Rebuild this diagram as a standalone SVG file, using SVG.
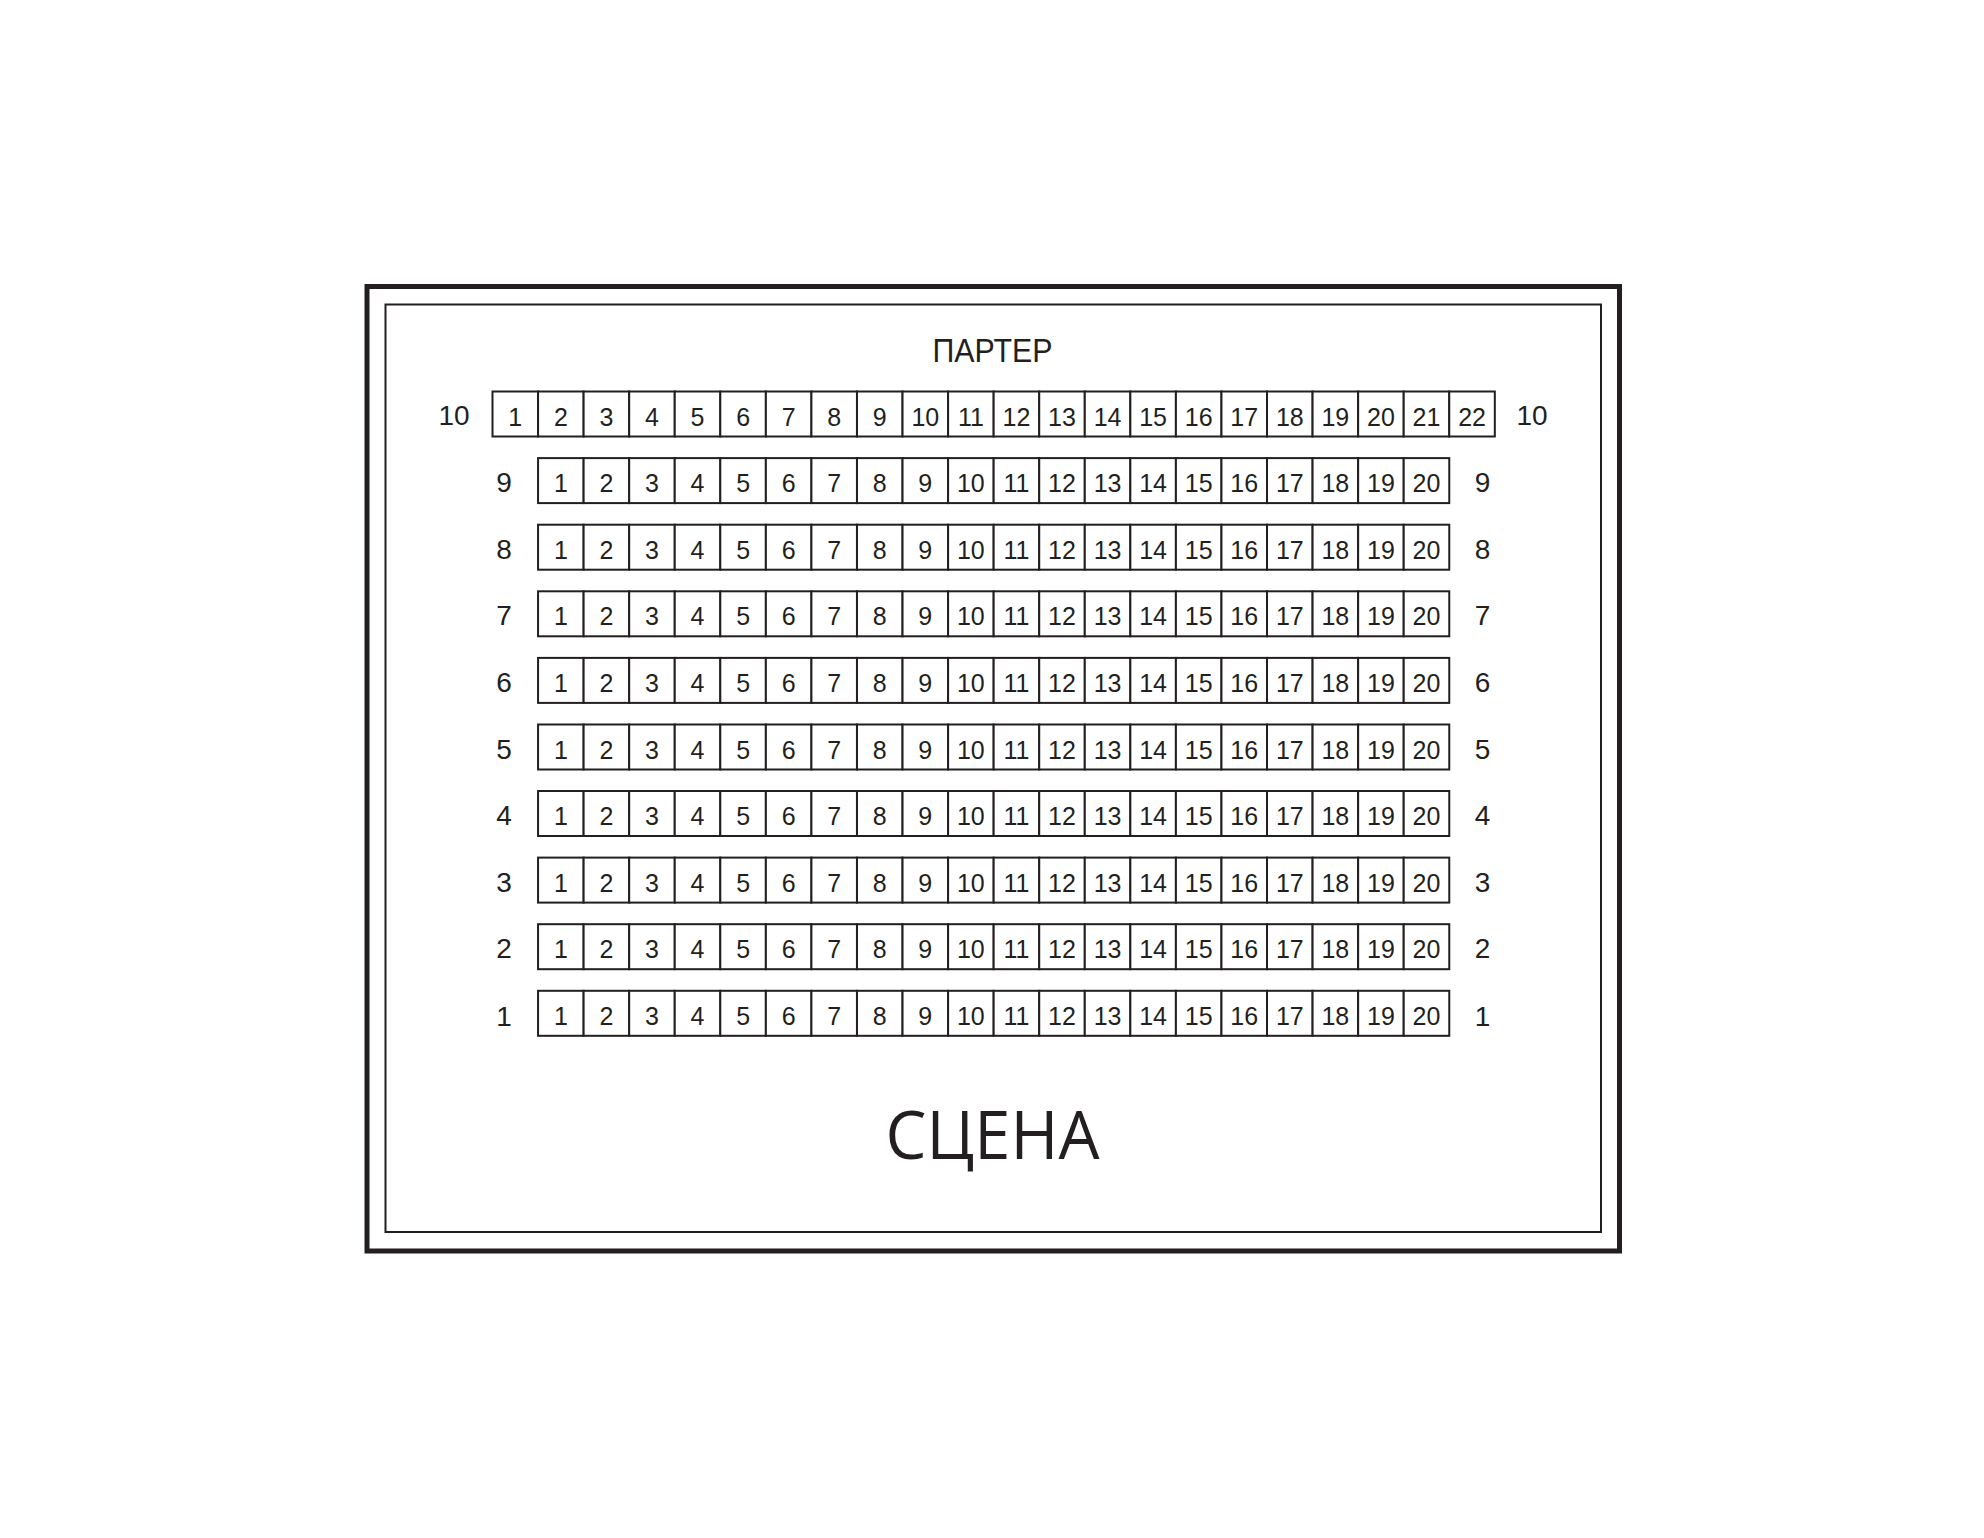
<svg xmlns="http://www.w3.org/2000/svg" width="1984" height="1538" viewBox="0 0 1984 1538">
<style>
.s{fill:#fff;stroke:#231f20;stroke-width:2}
.n{font-family:"Liberation Sans",Arial,sans-serif;font-size:25px;fill:#231f20;text-anchor:middle}
.l{font-family:"Liberation Sans",Arial,sans-serif;font-size:28px;fill:#231f20;text-anchor:middle}
</style>
<rect width="1984" height="1538" fill="#fff"/>
<g id="frame">
<rect x="367" y="286.5" width="1252.5" height="964.5" fill="none" stroke="#231f20" stroke-width="5"/>
<rect x="385.5" y="304.5" width="1215.5" height="927.5" fill="none" stroke="#231f20" stroke-width="2"/>
</g>
<g id="title"><text x="992.5" y="362" font-family="'Liberation Sans',Arial,sans-serif" font-size="33" fill="#231f20" text-anchor="middle" textLength="120" lengthAdjust="spacingAndGlyphs">ПАРТЕР</text></g>
<g id="row-10" transform="translate(0,391.5)">
<text class="l" x="454" y="33">10</text><text class="l" x="1532" y="33">10</text>
<rect class="s" x="492.5" y="0" width="45.56" height="45"/><rect class="s" x="538.06" y="0" width="45.56" height="45"/><rect class="s" x="583.62" y="0" width="45.56" height="45"/><rect class="s" x="629.18" y="0" width="45.56" height="45"/><rect class="s" x="674.74" y="0" width="45.56" height="45"/><rect class="s" x="720.3" y="0" width="45.56" height="45"/><rect class="s" x="765.86" y="0" width="45.56" height="45"/><rect class="s" x="811.42" y="0" width="45.56" height="45"/><rect class="s" x="856.98" y="0" width="45.56" height="45"/><rect class="s" x="902.54" y="0" width="45.56" height="45"/><rect class="s" x="948.1" y="0" width="45.56" height="45"/><rect class="s" x="993.66" y="0" width="45.56" height="45"/><rect class="s" x="1039.22" y="0" width="45.56" height="45"/><rect class="s" x="1084.78" y="0" width="45.56" height="45"/><rect class="s" x="1130.34" y="0" width="45.56" height="45"/><rect class="s" x="1175.9" y="0" width="45.56" height="45"/><rect class="s" x="1221.46" y="0" width="45.56" height="45"/><rect class="s" x="1267.02" y="0" width="45.56" height="45"/><rect class="s" x="1312.58" y="0" width="45.56" height="45"/><rect class="s" x="1358.14" y="0" width="45.56" height="45"/><rect class="s" x="1403.7" y="0" width="45.56" height="45"/><rect class="s" x="1449.26" y="0" width="45.56" height="45"/>
<text class="n" y="34.5"><tspan x="515.28">1</tspan><tspan x="560.84">2</tspan><tspan x="606.4">3</tspan><tspan x="651.96">4</tspan><tspan x="697.52">5</tspan><tspan x="743.08">6</tspan><tspan x="788.64">7</tspan><tspan x="834.2">8</tspan><tspan x="879.76">9</tspan><tspan x="925.32">10</tspan><tspan x="970.88">11</tspan><tspan x="1016.44">12</tspan><tspan x="1062">13</tspan><tspan x="1107.56">14</tspan><tspan x="1153.12">15</tspan><tspan x="1198.68">16</tspan><tspan x="1244.24">17</tspan><tspan x="1289.8">18</tspan><tspan x="1335.36">19</tspan><tspan x="1380.92">20</tspan><tspan x="1426.48">21</tspan><tspan x="1472.04">22</tspan></text>
</g>
<g id="row-9" transform="translate(0,458.1)">
<text class="l" x="504" y="34">9</text><text class="l" x="1482.5" y="34">9</text>
<rect class="s" x="538.06" y="0" width="45.56" height="45"/><rect class="s" x="583.62" y="0" width="45.56" height="45"/><rect class="s" x="629.18" y="0" width="45.56" height="45"/><rect class="s" x="674.74" y="0" width="45.56" height="45"/><rect class="s" x="720.3" y="0" width="45.56" height="45"/><rect class="s" x="765.86" y="0" width="45.56" height="45"/><rect class="s" x="811.42" y="0" width="45.56" height="45"/><rect class="s" x="856.98" y="0" width="45.56" height="45"/><rect class="s" x="902.54" y="0" width="45.56" height="45"/><rect class="s" x="948.1" y="0" width="45.56" height="45"/><rect class="s" x="993.66" y="0" width="45.56" height="45"/><rect class="s" x="1039.22" y="0" width="45.56" height="45"/><rect class="s" x="1084.78" y="0" width="45.56" height="45"/><rect class="s" x="1130.34" y="0" width="45.56" height="45"/><rect class="s" x="1175.9" y="0" width="45.56" height="45"/><rect class="s" x="1221.46" y="0" width="45.56" height="45"/><rect class="s" x="1267.02" y="0" width="45.56" height="45"/><rect class="s" x="1312.58" y="0" width="45.56" height="45"/><rect class="s" x="1358.14" y="0" width="45.56" height="45"/><rect class="s" x="1403.7" y="0" width="45.56" height="45"/>
<text class="n" y="34"><tspan x="560.84">1</tspan><tspan x="606.4">2</tspan><tspan x="651.96">3</tspan><tspan x="697.52">4</tspan><tspan x="743.08">5</tspan><tspan x="788.64">6</tspan><tspan x="834.2">7</tspan><tspan x="879.76">8</tspan><tspan x="925.32">9</tspan><tspan x="970.88">10</tspan><tspan x="1016.44">11</tspan><tspan x="1062">12</tspan><tspan x="1107.56">13</tspan><tspan x="1153.12">14</tspan><tspan x="1198.68">15</tspan><tspan x="1244.24">16</tspan><tspan x="1289.8">17</tspan><tspan x="1335.36">18</tspan><tspan x="1380.92">19</tspan><tspan x="1426.48">20</tspan></text>
</g>
<g id="row-8" transform="translate(0,524.7)">
<text class="l" x="504" y="34">8</text><text class="l" x="1482.5" y="34">8</text>
<rect class="s" x="538.06" y="0" width="45.56" height="45"/><rect class="s" x="583.62" y="0" width="45.56" height="45"/><rect class="s" x="629.18" y="0" width="45.56" height="45"/><rect class="s" x="674.74" y="0" width="45.56" height="45"/><rect class="s" x="720.3" y="0" width="45.56" height="45"/><rect class="s" x="765.86" y="0" width="45.56" height="45"/><rect class="s" x="811.42" y="0" width="45.56" height="45"/><rect class="s" x="856.98" y="0" width="45.56" height="45"/><rect class="s" x="902.54" y="0" width="45.56" height="45"/><rect class="s" x="948.1" y="0" width="45.56" height="45"/><rect class="s" x="993.66" y="0" width="45.56" height="45"/><rect class="s" x="1039.22" y="0" width="45.56" height="45"/><rect class="s" x="1084.78" y="0" width="45.56" height="45"/><rect class="s" x="1130.34" y="0" width="45.56" height="45"/><rect class="s" x="1175.9" y="0" width="45.56" height="45"/><rect class="s" x="1221.46" y="0" width="45.56" height="45"/><rect class="s" x="1267.02" y="0" width="45.56" height="45"/><rect class="s" x="1312.58" y="0" width="45.56" height="45"/><rect class="s" x="1358.14" y="0" width="45.56" height="45"/><rect class="s" x="1403.7" y="0" width="45.56" height="45"/>
<text class="n" y="34"><tspan x="560.84">1</tspan><tspan x="606.4">2</tspan><tspan x="651.96">3</tspan><tspan x="697.52">4</tspan><tspan x="743.08">5</tspan><tspan x="788.64">6</tspan><tspan x="834.2">7</tspan><tspan x="879.76">8</tspan><tspan x="925.32">9</tspan><tspan x="970.88">10</tspan><tspan x="1016.44">11</tspan><tspan x="1062">12</tspan><tspan x="1107.56">13</tspan><tspan x="1153.12">14</tspan><tspan x="1198.68">15</tspan><tspan x="1244.24">16</tspan><tspan x="1289.8">17</tspan><tspan x="1335.36">18</tspan><tspan x="1380.92">19</tspan><tspan x="1426.48">20</tspan></text>
</g>
<g id="row-7" transform="translate(0,591.3)">
<text class="l" x="504" y="34">7</text><text class="l" x="1482.5" y="34">7</text>
<rect class="s" x="538.06" y="0" width="45.56" height="45"/><rect class="s" x="583.62" y="0" width="45.56" height="45"/><rect class="s" x="629.18" y="0" width="45.56" height="45"/><rect class="s" x="674.74" y="0" width="45.56" height="45"/><rect class="s" x="720.3" y="0" width="45.56" height="45"/><rect class="s" x="765.86" y="0" width="45.56" height="45"/><rect class="s" x="811.42" y="0" width="45.56" height="45"/><rect class="s" x="856.98" y="0" width="45.56" height="45"/><rect class="s" x="902.54" y="0" width="45.56" height="45"/><rect class="s" x="948.1" y="0" width="45.56" height="45"/><rect class="s" x="993.66" y="0" width="45.56" height="45"/><rect class="s" x="1039.22" y="0" width="45.56" height="45"/><rect class="s" x="1084.78" y="0" width="45.56" height="45"/><rect class="s" x="1130.34" y="0" width="45.56" height="45"/><rect class="s" x="1175.9" y="0" width="45.56" height="45"/><rect class="s" x="1221.46" y="0" width="45.56" height="45"/><rect class="s" x="1267.02" y="0" width="45.56" height="45"/><rect class="s" x="1312.58" y="0" width="45.56" height="45"/><rect class="s" x="1358.14" y="0" width="45.56" height="45"/><rect class="s" x="1403.7" y="0" width="45.56" height="45"/>
<text class="n" y="34"><tspan x="560.84">1</tspan><tspan x="606.4">2</tspan><tspan x="651.96">3</tspan><tspan x="697.52">4</tspan><tspan x="743.08">5</tspan><tspan x="788.64">6</tspan><tspan x="834.2">7</tspan><tspan x="879.76">8</tspan><tspan x="925.32">9</tspan><tspan x="970.88">10</tspan><tspan x="1016.44">11</tspan><tspan x="1062">12</tspan><tspan x="1107.56">13</tspan><tspan x="1153.12">14</tspan><tspan x="1198.68">15</tspan><tspan x="1244.24">16</tspan><tspan x="1289.8">17</tspan><tspan x="1335.36">18</tspan><tspan x="1380.92">19</tspan><tspan x="1426.48">20</tspan></text>
</g>
<g id="row-6" transform="translate(0,657.9)">
<text class="l" x="504" y="34">6</text><text class="l" x="1482.5" y="34">6</text>
<rect class="s" x="538.06" y="0" width="45.56" height="45"/><rect class="s" x="583.62" y="0" width="45.56" height="45"/><rect class="s" x="629.18" y="0" width="45.56" height="45"/><rect class="s" x="674.74" y="0" width="45.56" height="45"/><rect class="s" x="720.3" y="0" width="45.56" height="45"/><rect class="s" x="765.86" y="0" width="45.56" height="45"/><rect class="s" x="811.42" y="0" width="45.56" height="45"/><rect class="s" x="856.98" y="0" width="45.56" height="45"/><rect class="s" x="902.54" y="0" width="45.56" height="45"/><rect class="s" x="948.1" y="0" width="45.56" height="45"/><rect class="s" x="993.66" y="0" width="45.56" height="45"/><rect class="s" x="1039.22" y="0" width="45.56" height="45"/><rect class="s" x="1084.78" y="0" width="45.56" height="45"/><rect class="s" x="1130.34" y="0" width="45.56" height="45"/><rect class="s" x="1175.9" y="0" width="45.56" height="45"/><rect class="s" x="1221.46" y="0" width="45.56" height="45"/><rect class="s" x="1267.02" y="0" width="45.56" height="45"/><rect class="s" x="1312.58" y="0" width="45.56" height="45"/><rect class="s" x="1358.14" y="0" width="45.56" height="45"/><rect class="s" x="1403.7" y="0" width="45.56" height="45"/>
<text class="n" y="34"><tspan x="560.84">1</tspan><tspan x="606.4">2</tspan><tspan x="651.96">3</tspan><tspan x="697.52">4</tspan><tspan x="743.08">5</tspan><tspan x="788.64">6</tspan><tspan x="834.2">7</tspan><tspan x="879.76">8</tspan><tspan x="925.32">9</tspan><tspan x="970.88">10</tspan><tspan x="1016.44">11</tspan><tspan x="1062">12</tspan><tspan x="1107.56">13</tspan><tspan x="1153.12">14</tspan><tspan x="1198.68">15</tspan><tspan x="1244.24">16</tspan><tspan x="1289.8">17</tspan><tspan x="1335.36">18</tspan><tspan x="1380.92">19</tspan><tspan x="1426.48">20</tspan></text>
</g>
<g id="row-5" transform="translate(0,724.5)">
<text class="l" x="504" y="34">5</text><text class="l" x="1482.5" y="34">5</text>
<rect class="s" x="538.06" y="0" width="45.56" height="45"/><rect class="s" x="583.62" y="0" width="45.56" height="45"/><rect class="s" x="629.18" y="0" width="45.56" height="45"/><rect class="s" x="674.74" y="0" width="45.56" height="45"/><rect class="s" x="720.3" y="0" width="45.56" height="45"/><rect class="s" x="765.86" y="0" width="45.56" height="45"/><rect class="s" x="811.42" y="0" width="45.56" height="45"/><rect class="s" x="856.98" y="0" width="45.56" height="45"/><rect class="s" x="902.54" y="0" width="45.56" height="45"/><rect class="s" x="948.1" y="0" width="45.56" height="45"/><rect class="s" x="993.66" y="0" width="45.56" height="45"/><rect class="s" x="1039.22" y="0" width="45.56" height="45"/><rect class="s" x="1084.78" y="0" width="45.56" height="45"/><rect class="s" x="1130.34" y="0" width="45.56" height="45"/><rect class="s" x="1175.9" y="0" width="45.56" height="45"/><rect class="s" x="1221.46" y="0" width="45.56" height="45"/><rect class="s" x="1267.02" y="0" width="45.56" height="45"/><rect class="s" x="1312.58" y="0" width="45.56" height="45"/><rect class="s" x="1358.14" y="0" width="45.56" height="45"/><rect class="s" x="1403.7" y="0" width="45.56" height="45"/>
<text class="n" y="34"><tspan x="560.84">1</tspan><tspan x="606.4">2</tspan><tspan x="651.96">3</tspan><tspan x="697.52">4</tspan><tspan x="743.08">5</tspan><tspan x="788.64">6</tspan><tspan x="834.2">7</tspan><tspan x="879.76">8</tspan><tspan x="925.32">9</tspan><tspan x="970.88">10</tspan><tspan x="1016.44">11</tspan><tspan x="1062">12</tspan><tspan x="1107.56">13</tspan><tspan x="1153.12">14</tspan><tspan x="1198.68">15</tspan><tspan x="1244.24">16</tspan><tspan x="1289.8">17</tspan><tspan x="1335.36">18</tspan><tspan x="1380.92">19</tspan><tspan x="1426.48">20</tspan></text>
</g>
<g id="row-4" transform="translate(0,791)">
<text class="l" x="504" y="34">4</text><text class="l" x="1482.5" y="34">4</text>
<rect class="s" x="538.06" y="0" width="45.56" height="45"/><rect class="s" x="583.62" y="0" width="45.56" height="45"/><rect class="s" x="629.18" y="0" width="45.56" height="45"/><rect class="s" x="674.74" y="0" width="45.56" height="45"/><rect class="s" x="720.3" y="0" width="45.56" height="45"/><rect class="s" x="765.86" y="0" width="45.56" height="45"/><rect class="s" x="811.42" y="0" width="45.56" height="45"/><rect class="s" x="856.98" y="0" width="45.56" height="45"/><rect class="s" x="902.54" y="0" width="45.56" height="45"/><rect class="s" x="948.1" y="0" width="45.56" height="45"/><rect class="s" x="993.66" y="0" width="45.56" height="45"/><rect class="s" x="1039.22" y="0" width="45.56" height="45"/><rect class="s" x="1084.78" y="0" width="45.56" height="45"/><rect class="s" x="1130.34" y="0" width="45.56" height="45"/><rect class="s" x="1175.9" y="0" width="45.56" height="45"/><rect class="s" x="1221.46" y="0" width="45.56" height="45"/><rect class="s" x="1267.02" y="0" width="45.56" height="45"/><rect class="s" x="1312.58" y="0" width="45.56" height="45"/><rect class="s" x="1358.14" y="0" width="45.56" height="45"/><rect class="s" x="1403.7" y="0" width="45.56" height="45"/>
<text class="n" y="34"><tspan x="560.84">1</tspan><tspan x="606.4">2</tspan><tspan x="651.96">3</tspan><tspan x="697.52">4</tspan><tspan x="743.08">5</tspan><tspan x="788.64">6</tspan><tspan x="834.2">7</tspan><tspan x="879.76">8</tspan><tspan x="925.32">9</tspan><tspan x="970.88">10</tspan><tspan x="1016.44">11</tspan><tspan x="1062">12</tspan><tspan x="1107.56">13</tspan><tspan x="1153.12">14</tspan><tspan x="1198.68">15</tspan><tspan x="1244.24">16</tspan><tspan x="1289.8">17</tspan><tspan x="1335.36">18</tspan><tspan x="1380.92">19</tspan><tspan x="1426.48">20</tspan></text>
</g>
<g id="row-3" transform="translate(0,857.6)">
<text class="l" x="504" y="34">3</text><text class="l" x="1482.5" y="34">3</text>
<rect class="s" x="538.06" y="0" width="45.56" height="45"/><rect class="s" x="583.62" y="0" width="45.56" height="45"/><rect class="s" x="629.18" y="0" width="45.56" height="45"/><rect class="s" x="674.74" y="0" width="45.56" height="45"/><rect class="s" x="720.3" y="0" width="45.56" height="45"/><rect class="s" x="765.86" y="0" width="45.56" height="45"/><rect class="s" x="811.42" y="0" width="45.56" height="45"/><rect class="s" x="856.98" y="0" width="45.56" height="45"/><rect class="s" x="902.54" y="0" width="45.56" height="45"/><rect class="s" x="948.1" y="0" width="45.56" height="45"/><rect class="s" x="993.66" y="0" width="45.56" height="45"/><rect class="s" x="1039.22" y="0" width="45.56" height="45"/><rect class="s" x="1084.78" y="0" width="45.56" height="45"/><rect class="s" x="1130.34" y="0" width="45.56" height="45"/><rect class="s" x="1175.9" y="0" width="45.56" height="45"/><rect class="s" x="1221.46" y="0" width="45.56" height="45"/><rect class="s" x="1267.02" y="0" width="45.56" height="45"/><rect class="s" x="1312.58" y="0" width="45.56" height="45"/><rect class="s" x="1358.14" y="0" width="45.56" height="45"/><rect class="s" x="1403.7" y="0" width="45.56" height="45"/>
<text class="n" y="34"><tspan x="560.84">1</tspan><tspan x="606.4">2</tspan><tspan x="651.96">3</tspan><tspan x="697.52">4</tspan><tspan x="743.08">5</tspan><tspan x="788.64">6</tspan><tspan x="834.2">7</tspan><tspan x="879.76">8</tspan><tspan x="925.32">9</tspan><tspan x="970.88">10</tspan><tspan x="1016.44">11</tspan><tspan x="1062">12</tspan><tspan x="1107.56">13</tspan><tspan x="1153.12">14</tspan><tspan x="1198.68">15</tspan><tspan x="1244.24">16</tspan><tspan x="1289.8">17</tspan><tspan x="1335.36">18</tspan><tspan x="1380.92">19</tspan><tspan x="1426.48">20</tspan></text>
</g>
<g id="row-2" transform="translate(0,924.2)">
<text class="l" x="504" y="34">2</text><text class="l" x="1482.5" y="34">2</text>
<rect class="s" x="538.06" y="0" width="45.56" height="45"/><rect class="s" x="583.62" y="0" width="45.56" height="45"/><rect class="s" x="629.18" y="0" width="45.56" height="45"/><rect class="s" x="674.74" y="0" width="45.56" height="45"/><rect class="s" x="720.3" y="0" width="45.56" height="45"/><rect class="s" x="765.86" y="0" width="45.56" height="45"/><rect class="s" x="811.42" y="0" width="45.56" height="45"/><rect class="s" x="856.98" y="0" width="45.56" height="45"/><rect class="s" x="902.54" y="0" width="45.56" height="45"/><rect class="s" x="948.1" y="0" width="45.56" height="45"/><rect class="s" x="993.66" y="0" width="45.56" height="45"/><rect class="s" x="1039.22" y="0" width="45.56" height="45"/><rect class="s" x="1084.78" y="0" width="45.56" height="45"/><rect class="s" x="1130.34" y="0" width="45.56" height="45"/><rect class="s" x="1175.9" y="0" width="45.56" height="45"/><rect class="s" x="1221.46" y="0" width="45.56" height="45"/><rect class="s" x="1267.02" y="0" width="45.56" height="45"/><rect class="s" x="1312.58" y="0" width="45.56" height="45"/><rect class="s" x="1358.14" y="0" width="45.56" height="45"/><rect class="s" x="1403.7" y="0" width="45.56" height="45"/>
<text class="n" y="34"><tspan x="560.84">1</tspan><tspan x="606.4">2</tspan><tspan x="651.96">3</tspan><tspan x="697.52">4</tspan><tspan x="743.08">5</tspan><tspan x="788.64">6</tspan><tspan x="834.2">7</tspan><tspan x="879.76">8</tspan><tspan x="925.32">9</tspan><tspan x="970.88">10</tspan><tspan x="1016.44">11</tspan><tspan x="1062">12</tspan><tspan x="1107.56">13</tspan><tspan x="1153.12">14</tspan><tspan x="1198.68">15</tspan><tspan x="1244.24">16</tspan><tspan x="1289.8">17</tspan><tspan x="1335.36">18</tspan><tspan x="1380.92">19</tspan><tspan x="1426.48">20</tspan></text>
</g>
<g id="row-1" transform="translate(0,990.8)">
<text class="l" x="504" y="35.5">1</text><text class="l" x="1482.5" y="35.5">1</text>
<rect class="s" x="538.06" y="0" width="45.56" height="45"/><rect class="s" x="583.62" y="0" width="45.56" height="45"/><rect class="s" x="629.18" y="0" width="45.56" height="45"/><rect class="s" x="674.74" y="0" width="45.56" height="45"/><rect class="s" x="720.3" y="0" width="45.56" height="45"/><rect class="s" x="765.86" y="0" width="45.56" height="45"/><rect class="s" x="811.42" y="0" width="45.56" height="45"/><rect class="s" x="856.98" y="0" width="45.56" height="45"/><rect class="s" x="902.54" y="0" width="45.56" height="45"/><rect class="s" x="948.1" y="0" width="45.56" height="45"/><rect class="s" x="993.66" y="0" width="45.56" height="45"/><rect class="s" x="1039.22" y="0" width="45.56" height="45"/><rect class="s" x="1084.78" y="0" width="45.56" height="45"/><rect class="s" x="1130.34" y="0" width="45.56" height="45"/><rect class="s" x="1175.9" y="0" width="45.56" height="45"/><rect class="s" x="1221.46" y="0" width="45.56" height="45"/><rect class="s" x="1267.02" y="0" width="45.56" height="45"/><rect class="s" x="1312.58" y="0" width="45.56" height="45"/><rect class="s" x="1358.14" y="0" width="45.56" height="45"/><rect class="s" x="1403.7" y="0" width="45.56" height="45"/>
<text class="n" y="34.5"><tspan x="560.84">1</tspan><tspan x="606.4">2</tspan><tspan x="651.96">3</tspan><tspan x="697.52">4</tspan><tspan x="743.08">5</tspan><tspan x="788.64">6</tspan><tspan x="834.2">7</tspan><tspan x="879.76">8</tspan><tspan x="925.32">9</tspan><tspan x="970.88">10</tspan><tspan x="1016.44">11</tspan><tspan x="1062">12</tspan><tspan x="1107.56">13</tspan><tspan x="1153.12">14</tspan><tspan x="1198.68">15</tspan><tspan x="1244.24">16</tspan><tspan x="1289.8">17</tspan><tspan x="1335.36">18</tspan><tspan x="1380.92">19</tspan><tspan x="1426.48">20</tspan></text>
</g>
<g id="stage"><text x="992.5" y="1159" font-family="'Open Sans',sans-serif" font-size="67" fill="#231f20" text-anchor="middle" textLength="214" lengthAdjust="spacingAndGlyphs">СЦЕНА</text></g>
<g id="connectors"/>
</svg>
